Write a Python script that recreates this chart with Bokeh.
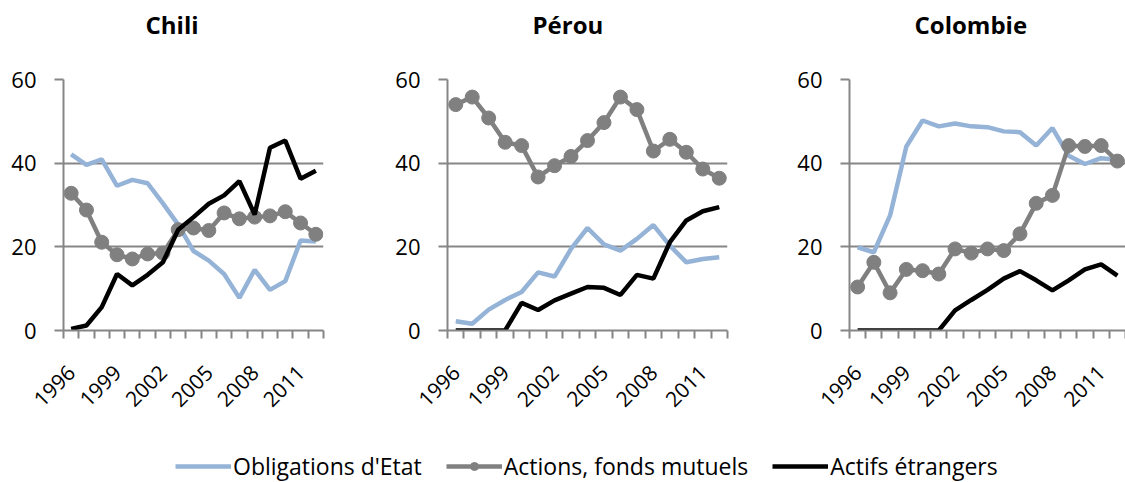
from math import pi
from bokeh.plotting import figure
from bokeh.layouts import column, row
from bokeh.models import FixedTicker, Range1d, Legend, LegendItem, Title
from bokeh.embed import file_html
from bokeh.resources import INLINE

years = list(range(1996, 2013))
tick_years = [1996, 1999, 2002, 2005, 2008, 2011]
y_ticks = [0, 20, 40, 60]

series_names = ["Obligations d'Etat", "Actions, fonds mutuels", "Actifs étrangers"]

chili_obligations = [42.1, 39.6, 40.9, 34.6, 36.0, 35.2, 30.4, 25.3, 19.0, 16.7, 13.5, 7.8, 14.5, 9.7, 11.8, 21.5, 21.3]
chili_actions = [32.8, 28.8, 21.1, 18.1, 17.1, 18.3, 18.5, 24.1, 24.5, 23.9, 28.1, 26.7, 27.1, 27.4, 28.4, 25.7, 23.0]
chili_actifs = [0.4, 1.2, 5.6, 13.5, 10.8, 13.3, 16.3, 24.1, 27.1, 30.3, 32.3, 35.7, 27.7, 43.7, 45.4, 36.3, 38.2]

perou_obligations = [2.2, 1.6, 5.0, 7.3, 9.2, 13.9, 12.9, 19.5, 24.5, 20.6, 19.1, 21.9, 25.2, 20.3, 16.3, 17.1, 17.5]
perou_actions = [54.0, 55.8, 50.8, 45.0, 44.2, 36.7, 39.4, 41.6, 45.4, 49.7, 55.8, 52.8, 42.9, 45.7, 42.6, 38.6, 36.4]
perou_actifs = [0.0, 0.0, 0.0, 0.0, 6.6, 4.9, 7.2, 8.8, 10.4, 10.2, 8.5, 13.3, 12.4, 21.1, 26.3, 28.5, 29.5]

colombie_obligations = [19.9, 18.7, 27.5, 44.0, 50.2, 48.8, 49.5, 48.8, 48.6, 47.6, 47.4, 44.2, 48.4, 41.8, 39.8, 41.2, 40.8]
colombie_actions = [10.4, 16.3, 9.0, 14.6, 14.3, 13.5, 19.5, 18.5, 19.5, 19.1, 23.1, 30.4, 32.3, 44.2, 44.0, 44.2, 40.5]
colombie_actifs = [0.0, 0.0, 0.0, 0.0, 0.0, 0.0, 4.8, 7.3, 9.7, 12.4, 14.2, 12.0, 9.6, 12.0, 14.6, 15.8, 13.1]

BLUE = "#95B3D7"
GRAY = "#808080"
BLACK = "#000000"
AXIS = "#868686"
FONT = "Open Sans"
LW = 4.5

# (title, series..., figure width, left border, right border, title offset from frame left)
panels = [
    ("Chili", chili_obligations, chili_actions, chili_actifs, 375, 63, 52, 82),
    ("Pérou", perou_obligations, perou_actions, perou_actifs, 385, 72, 33, 85),
    ("Colombie", colombie_obligations, colombie_actions, colombie_actifs, 365, 89, 0, 65),
]

figs = []
for title, obl, act, etr, w, bl, br, toff in panels:
    p = figure(width=w, height=430, x_range=Range1d(1995.5, 2012.5), y_range=Range1d(0, 60),
               output_backend="svg", toolbar_location=None,
               min_border_left=bl, min_border_right=br, min_border_top=79, min_border_bottom=100)
    p.outline_line_color = None

    # spacer panel between the frame and the title, then the title itself
    p.add_layout(Title(text=" ", text_font_size="1px", standoff=36), "above")
    p.add_layout(Title(text=title, text_font=FONT, text_font_style="bold",
                       text_font_size="24px", text_color="black",
                       align="left", offset=toff, standoff=0), "above")

    p.xgrid.visible = False
    p.ygrid.ticker = FixedTicker(ticks=y_ticks)
    p.ygrid.grid_line_color = AXIS
    p.ygrid.grid_line_width = 2

    minor = [1995.5 + i for i in range(len(years) + 1)]
    p.xaxis.ticker = FixedTicker(ticks=tick_years, minor_ticks=minor)
    p.xaxis.axis_line_color = AXIS
    p.xaxis.axis_line_width = 2
    p.xaxis.major_tick_line_color = None
    p.xaxis.major_tick_out = 0
    p.xaxis.major_tick_in = 0
    p.xaxis.minor_tick_line_color = AXIS
    p.xaxis.minor_tick_line_width = 2
    p.xaxis.minor_tick_in = 0
    p.xaxis.minor_tick_out = 8
    p.xaxis.major_label_orientation = pi / 4
    p.xaxis.major_label_standoff = 30
    p.xaxis.major_label_text_font = FONT
    p.xaxis.major_label_text_font_size = "21px"
    p.xaxis.major_label_text_color = "black"

    p.yaxis.ticker = FixedTicker(ticks=y_ticks)
    p.yaxis.axis_line_color = AXIS
    p.yaxis.axis_line_width = 2
    p.yaxis.major_tick_line_color = AXIS
    p.yaxis.major_tick_line_width = 2
    p.yaxis.major_tick_in = 0
    p.yaxis.major_tick_out = 9
    p.yaxis.minor_tick_line_color = None
    p.yaxis.major_label_standoff = 18
    p.yaxis.major_label_text_font = FONT
    p.yaxis.major_label_text_font_size = "22px"
    p.yaxis.major_label_text_color = "black"

    p.line(years, obl, color=BLUE, line_width=LW)
    p.line(years, act, color=GRAY, line_width=LW)
    p.scatter(years, act, size=14, color=GRAY)
    p.line(years, etr, color=BLACK, line_width=LW)
    figs.append(p)

# Legend strip: renderers hold the series data but the ranges keep them out of view,
# so only their legend glyphs appear.
lf = figure(width=1125, height=52, x_range=Range1d(0, 1), y_range=Range1d(0, 1),
            output_backend="svg", toolbar_location=None, min_border=0,
            x_axis_location=None, y_axis_location=None)
lf.outline_line_color = None
lf.grid.visible = False
r1 = lf.line(years, chili_obligations, color=BLUE, line_width=LW)
r2a = lf.line(years, chili_actions, color=GRAY, line_width=LW)
r2b = lf.scatter(years, chili_actions, size=11, color=GRAY)
r3 = lf.line(years, chili_actifs, color=BLACK, line_width=LW)
legend = Legend(items=[LegendItem(label=series_names[0], renderers=[r1]),
                       LegendItem(label=series_names[1], renderers=[r2a, r2b]),
                       LegendItem(label=series_names[2], renderers=[r3])],
                orientation="horizontal", location=(175, 0),
                border_line_color=None, background_fill_alpha=0,
                label_text_font=FONT, label_text_font_size="23px", label_text_color="black",
                glyph_width=56, glyph_height=20, label_standoff=2, spacing=24,
                padding=0, margin=0)
lf.add_layout(legend)

layout = column(row(*figs), lf)
open("out.html", "w").write(file_html(layout, INLINE))
